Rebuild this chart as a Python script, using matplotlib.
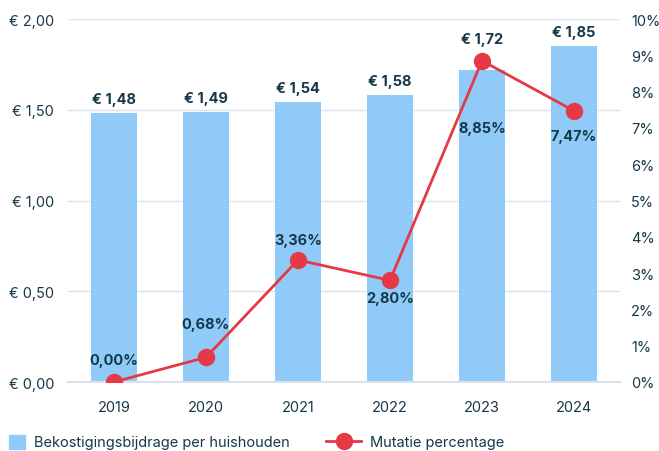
import matplotlib
matplotlib.use('Agg')
import matplotlib.pyplot as plt
from matplotlib.ticker import FuncFormatter
from matplotlib.lines import Line2D
from matplotlib.patches import Patch

years = ['2019', '2020', '2021', '2022', '2023', '2024']
bijdrage = [1.48, 1.49, 1.54, 1.58, 1.72, 1.85]
mutatie = [0.00, 0.68, 3.36, 2.80, 8.85, 7.47]
# vertical offsets (px) of the labels relative to bar top / point
bar_offsets = [14, 14, 14, 14, 31, 14]
pct_offsets = [22, 33, 20, -18, -67, -25]

TEXT = '#163848'
BAR = '#90CAF9'
RED = '#E63946'
GRID = '#dde1ea'

plt.rcParams['font.family'] = ['Inter', 'DejaVu Sans']

fig = plt.figure(figsize=(6.59, 4.52), dpi=100)
ax = fig.add_axes([68 / 659, 1 - 383 / 452, (620 - 68) / 659, (383 - 20) / 452])
ax2 = ax.twinx()

x = list(range(len(years)))
ax.bar(x, bijdrage, width=0.5, color=BAR, zorder=2)
for xi, v, off in zip(x, bijdrage, bar_offsets):
    ax.annotate('€ ' + f'{v:.2f}'.replace('.', ','), (xi, v), xytext=(0, off),
                textcoords='offset pixels', ha='center', va='center',
                fontsize=10.5, fontweight='bold', color=TEXT)

ax.set_ylim(0, 2.0)
ax.set_yticks([0, 0.5, 1.0, 1.5, 2.0])
ax.yaxis.set_major_formatter(FuncFormatter(lambda v, p: '€ ' + f'{v:.2f}'.replace('.', ',')))
ax.set_xlim(-0.5, 5.5)
ax.set_xticks(x)
ax.set_xticklabels(years)
ax.grid(axis='y', color=GRID, linewidth=1, zorder=0)
ax.set_axisbelow(True)

ax2.plot(x, mutatie, color=RED, linewidth=2, marker='o', markersize=11.5, zorder=5)
ax2.set_ylim(0, 10)
ax2.set_yticks(range(0, 11))
ax2.yaxis.set_major_formatter(FuncFormatter(lambda v, p: f'{int(v)}%'))
for xi, v, off in zip(x, mutatie, pct_offsets):
    ax2.annotate(f'{v:.2f}%'.replace('.', ','), (xi, v), xytext=(0, off),
                 textcoords='offset pixels', ha='center', va='center',
                 fontsize=10.5, fontweight='bold', color=TEXT)

for a in (ax, ax2):
    for s in a.spines.values():
        s.set_visible(False)
    a.tick_params(length=0, labelsize=10.5, labelcolor=TEXT)
ax.spines['bottom'].set_visible(True)
ax.spines['bottom'].set_color(GRID)
ax.spines['bottom'].set_linewidth(1.5)
ax.tick_params(axis='y', pad=10)
ax.tick_params(axis='x', pad=13)
ax2.tick_params(axis='y', pad=8)

leg_kw = dict(loc='center left', frameon=False, fontsize=10.5, labelcolor=TEXT,
              borderpad=0, borderaxespad=0, handletextpad=0.6)
leg1 = fig.legend([Patch(color=BAR)], ['Bekostigingsbijdrage per huishouden'],
                  bbox_to_anchor=(9 / 659, 1 - 443 / 452),
                  handlelength=1.1, handleheight=1.1, **leg_kw)
fig.legend([Line2D([0], [0], color=RED, linewidth=2, marker='o', markersize=11.5)],
           ['Mutatie percentage'], bbox_to_anchor=(326 / 659, 1 - 443 / 452),
           handlelength=2.4, **leg_kw)

fig.savefig('out.png', dpi=100)
